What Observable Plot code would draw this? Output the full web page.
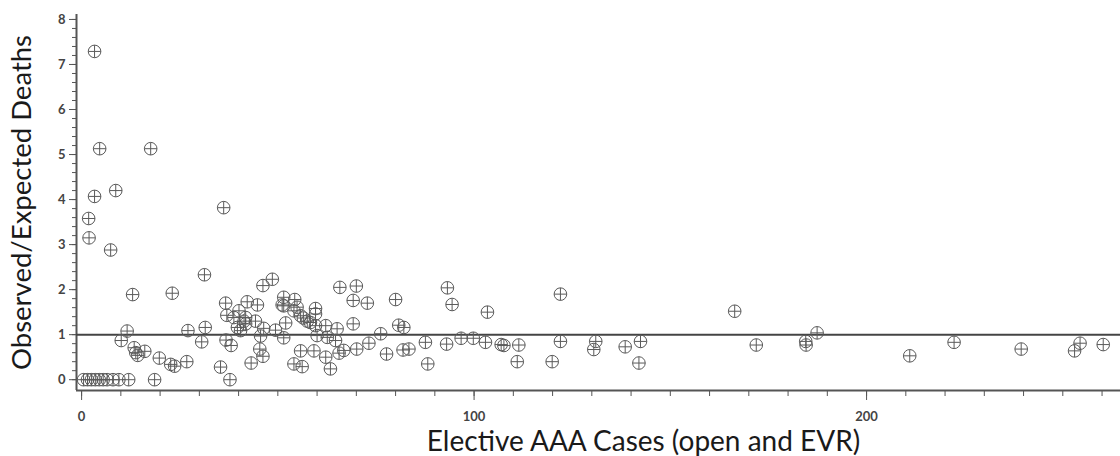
<!DOCTYPE html>
<html>
<head>
<meta charset="utf-8">
<script src="https://cdn.jsdelivr.net/npm/d3@7"></script>
<script src="https://cdn.jsdelivr.net/npm/@observablehq/plot@0.6"></script>
<style>
  html, body { margin: 0; padding: 0; background: #fff; }
  #chart svg { display: block; }
</style>
</head>
<body>
<div id="chart"></div>
<script>
// ---- Data ----
const cases = [
  // O/E = 0 hospitals
  0.5, 1.5, 2.5, 3.5, 4.5, 5.5, 6.5, 8, 9.5, 12, 18.6, 37.8,
  // high ratios
  3.3, 4.6, 17.6, 3.3, 8.7, 1.8, 1.9, 7.4, 36.2, 31.3, 13.0, 23.1, 46.2, 48.6,
  // left low cluster
  11.6, 10.1, 13.4, 13.8, 14.3, 16.1, 19.8, 22.7, 23.7, 26.8, 27.1, 31.5, 30.6, 35.4,
  // middle cluster
  36.7, 37.0, 36.8, 38.1, 39.7, 38.8, 40.1, 42.2, 44.8, 41.8, 41.4, 41.8, 40.5, 44.3,
  46.4, 45.6, 45.4, 46.2, 43.2, 49.4, 51.5, 51.5, 51.5, 51.1, 52.0, 54.3, 54.9, 55.8,
  54.1, 54.1, 56.2, 55.8, 56.5, 58.3, 59.6, 59.6, 59.6, 62.2, 60.0, 62.6, 65.1, 64.7,
  65.6, 66.8, 63.4, 62.2, 59.2, 57.5,
  65.8, 70.0, 69.2, 72.8, 69.2, 70.1, 73.2, 76.2, 77.7, 80.0, 80.8, 82.1, 81.9, 83.4,
  87.6, 88.2, 93.2, 94.4, 93.0, 96.7, 99.8, 103.4, 102.9, 106.9, 107.6, 111.4, 111.0,
  119.9, 122.0, 122.0, 131.0, 130.5, 138.5, 142.4, 142.0,
  // large-volume hospitals
  166.4, 171.9, 184.5, 184.6, 187.4, 211.0, 222.3, 239.4, 253.0, 254.4, 260.3
];
const ratio = [
  0, 0, 0, 0, 0, 0, 0, 0, 0, 0, 0, 0,
  7.29, 5.13, 5.13, 4.07, 4.2, 3.58, 3.15, 2.88, 3.82, 2.33, 1.89, 1.92, 2.09, 2.23,
  1.08, 0.87, 0.71, 0.60, 0.54, 0.63, 0.48, 0.34, 0.30, 0.40, 1.09, 1.16, 0.84, 0.28,
  1.70, 1.43, 0.88, 0.76, 1.16, 1.38, 1.53, 1.73, 1.66, 1.38, 1.30, 1.24, 1.09, 1.30,
  1.14, 0.97, 0.68, 0.52, 0.37, 1.10, 0.93, 1.64, 1.83, 1.66, 1.26, 1.78, 1.61, 1.42,
  1.53, 0.35, 0.29, 0.64, 1.37, 1.27, 1.58, 1.46, 1.20, 1.20, 0.98, 0.94, 1.13, 0.87,
  0.59, 0.65, 0.24, 0.50, 0.64, 1.30,
  2.05, 2.08, 1.76, 1.70, 1.24, 0.68, 0.81, 1.02, 0.57, 1.78, 1.21, 1.16, 0.66, 0.68,
  0.83, 0.35, 2.04, 1.67, 0.79, 0.92, 0.92, 1.50, 0.83, 0.78, 0.76, 0.77, 0.40,
  0.40, 1.90, 0.85, 0.85, 0.67, 0.73, 0.85, 0.37,
  1.52, 0.77, 0.85, 0.77, 1.04, 0.53, 0.83, 0.68, 0.64, 0.81, 0.78
];
const yMajorTicks = [0, 1, 2, 3, 4, 5, 6, 7, 8];
const yMinorTicks = d3.range(0, 41).map(i => i / 5);
const xMajorTicks = [0, 100, 200];
const xMinorTicks = d3.range(0, 27).map(i => i * 10);
const referenceLine = [1];
const xTitle = "Elective AAA Cases (open and EVR)";
const yTitle = "Observed/Expected Deaths";

const points = cases.map((c, i) => ({cases: c, ratio: ratio[i]}));

// circle-with-cross marker
const circlePlus = {
  draw(context, size) {
    const r = Math.sqrt(size / Math.PI);
    context.moveTo(r, 0);
    context.arc(0, 0, r, 0, 2 * Math.PI);
    context.moveTo(-r, 0);
    context.lineTo(r, 0);
    context.moveTo(0, -r);
    context.lineTo(0, r);
  }
};

const xDomain = [-1.3, 264.7];
const yDomain = [-0.24, 8.11];
const axisColor = "#555";
const font = "Lato, 'Open Sans', sans-serif";

const chart = Plot.plot({
  width: 1120,
  height: 456,
  marginLeft: 76,
  marginRight: 0,
  marginTop: 14,
  marginBottom: 66,
  style: {fontFamily: font, background: "#fff"},
  x: {domain: xDomain},
  y: {domain: yDomain},
  marks: [
    // minor ticks
    Plot.axisY({ticks: yMinorTicks, tickSize: 4, text: null, label: null, stroke: axisColor}),
    Plot.axisX({ticks: xMinorTicks, tickSize: 6, text: null, label: null, stroke: axisColor}),
    // major ticks and labels
    Plot.axisY({ticks: yMajorTicks, tickSize: 7, tickPadding: 4, label: null,
      stroke: axisColor, fill: "#444", fontSize: 13, fontWeight: "bold", tickFormat: d3.format("d")}),
    Plot.axisX({ticks: xMajorTicks, tickSize: 10, tickPadding: 11, label: null,
      stroke: axisColor, fill: "#444", fontSize: 13, fontWeight: "bold", tickFormat: d3.format("d")}),
    // axis lines
    Plot.ruleX([xDomain[0]], {stroke: axisColor, strokeWidth: 2}),
    Plot.ruleY([yDomain[0]], {stroke: axisColor, strokeWidth: 2}),
    // reference line O/E = 1
    Plot.ruleY(referenceLine, {stroke: "#444", strokeWidth: 2}),
    // points
    Plot.dot(points, {x: "cases", y: "ratio", r: 6.3, symbol: circlePlus,
      stroke: "#5a5a5a", strokeWidth: 1, fill: "none"}),
    // axis titles
    Plot.text([xTitle], {frameAnchor: "bottom", textAnchor: "middle", lineAnchor: "middle",
      dx: 45, dy: 52, fontSize: 28, fill: "#1a1a1a", fontFamily: font}),
    Plot.text([yTitle], {frameAnchor: "left", textAnchor: "middle", lineAnchor: "middle",
      rotate: -90, dx: -54, fontSize: 27.5, fill: "#1a1a1a", fontFamily: font})
  ]
});

document.getElementById("chart").appendChild(chart);
</script>
</body>
</html>
